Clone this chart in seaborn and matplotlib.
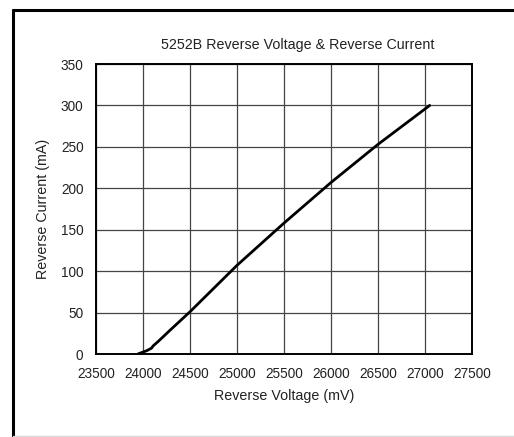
import matplotlib
matplotlib.use("Agg")
import matplotlib.pyplot as plt
import seaborn as sns
import pandas as pd
from matplotlib.lines import Line2D

# Measured reverse characteristic of the 5252B zener
voltage_mv = [23945, 24040, 24090, 24110, 24160, 24300, 24500,
              25000, 25500, 26000, 26500, 27050]
current_ma = [0, 4, 7, 10, 15, 30, 51,
              107, 158, 207, 253, 300]

x_ticks = [23500, 24000, 24500, 25000, 25500, 26000, 26500, 27000, 27500]
y_ticks = [0, 50, 100, 150, 200, 250, 300, 350]

title = "5252B Reverse Voltage & Reverse Current"
x_label = "Reverse Voltage (mV)"
y_label = "Reverse Current (mA)"

df = pd.DataFrame({"voltage": voltage_mv, "current": current_ma})

sns.set_theme(style="white")
plt.rcParams["font.family"] = ["Liberation Sans", "DejaVu Sans"]

fig = plt.figure(figsize=(5.14, 4.37), dpi=100)
fig.patch.set_facecolor("white")

# outer chart frame (right side runs off the canvas)
W, H = 514, 437
fig.add_artist(Line2D([12.5 / W, 12.5 / W], [1 - 9.5 / H, 1 - 436 / H],
                      transform=fig.transFigure, color="black", lw=2.2))
fig.add_artist(Line2D([12.5 / W, 1.0], [1 - 9.5 / H, 1 - 9.5 / H],
                      transform=fig.transFigure, color="black", lw=2.2))
fig.add_artist(Line2D([12.5 / W, 1.0], [1 - 436 / H, 1 - 436 / H],
                      transform=fig.transFigure, color="#d8d8d8", lw=1.0))

ax = fig.add_axes([96 / W, 1 - 354 / H, 376 / W, 290 / H])
sns.lineplot(data=df, x="voltage", y="current", ax=ax, color="black",
             linewidth=2.0, estimator=None, sort=False)

ax.set_xlim(23500, 27500)
ax.set_ylim(0, 350)
ax.set_xticks(x_ticks)
ax.set_yticks(y_ticks)
ax.tick_params(axis="both", length=0, labelsize=9.8, colors="#222222", pad=9)
ax.grid(True, color="#444444", linewidth=0.9)
for s in ax.spines.values():
    s.set_visible(True)
    s.set_color("black")
    s.set_linewidth(1.4)

ax.set_xlabel(x_label, fontsize=10.3, color="#222222", labelpad=6)
ax.set_ylabel(y_label, fontsize=10.3, color="#222222", labelpad=8)
fig.text(298 / W, 1 - 45 / H, title, ha="center", va="center",
         fontsize=10.3, color="#222222")

fig.savefig("out.png", dpi=100, facecolor="white")
